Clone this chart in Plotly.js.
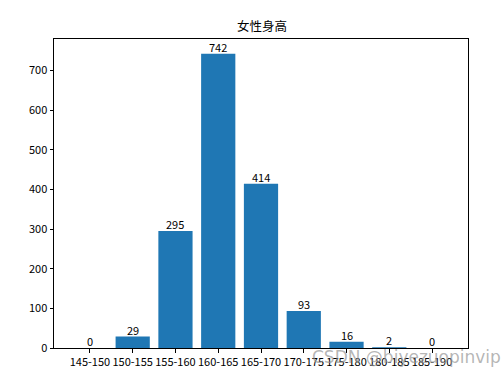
<!DOCTYPE html>
<html><head><meta charset="utf-8">
<script src="https://cdn.plot.ly/plotly-3.0.1.min.js"></script>
<style>html,body{margin:0;padding:0;background:#fff}</style>
</head><body><div id="chart" style="width:503px;height:373px"></div>
<script>
const categories = ["145-150","150-155","155-160","160-165","165-170","170-175","175-180","180-185","185-190"];
const counts = [0, 29, 295, 742, 414, 93, 16, 2, 0];
const yTicks = [0, 100, 200, 300, 400, 500, 600, 700];
const chartTitle = "女性身高";
const watermark = "CSDN @biyezuopinvip";

const font = "'Noto Sans CJK SC', 'DejaVu Sans', sans-serif";
const xs = categories.map((_, i) => i);
const labelAnns = xs.map((x, i) => ({
  x: x, y: counts[i], xref: "x", yref: "y", text: String(counts[i]),
  showarrow: false, xanchor: "center", yanchor: "bottom", yshift: -3,
  font: {family: font, size: 11, color: "#000"}
}));
Plotly.newPlot("chart", [{
  type: "bar",
  x: xs,
  y: counts,
  width: 0.8,
  marker: {color: "#1f77b4"},
  hoverinfo: "none"
}], {
  width: 503, height: 373,
  margin: {l: 54, r: 35, t: 39, b: 25, pad: 0},
  paper_bgcolor: "#fff", plot_bgcolor: "#fff",
  font: {family: font, size: 11, color: "#000"},
  title: {text: chartTitle, x: 0.521, xanchor: "center", y: 0.928, yanchor: "middle", font: {family: font, size: 12.5, color: "#000"}},
  showlegend: false,
  xaxis: {
    range: [-0.84, 8.84], tickmode: "array", tickvals: xs, ticktext: categories,
    showline: true, mirror: true, linecolor: "#000", linewidth: 1,
    ticks: "outside", ticklen: 3.5, tickcolor: "#000", showgrid: false, zeroline: false,
    tickfont: {family: font, size: 11}
  },
  yaxis: {
    range: [0, 779], tickmode: "array", tickvals: yTicks,
    showline: true, mirror: true, linecolor: "#000", linewidth: 1,
    ticks: "outside", ticklen: 3.5, tickcolor: "#000", showgrid: false, zeroline: false,
    tickfont: {family: font, size: 11}
  },
  annotations: labelAnns.concat([{
    text: watermark, xref: "paper", yref: "paper", x: 1.085, y: -0.03, xanchor: "right", yanchor: "middle",
    showarrow: false, font: {family: "'DejaVu Sans', sans-serif", size: 17, color: "rgba(150,150,150,0.7)"}
  }])
}, {staticPlot: true});
</script></body></html>
